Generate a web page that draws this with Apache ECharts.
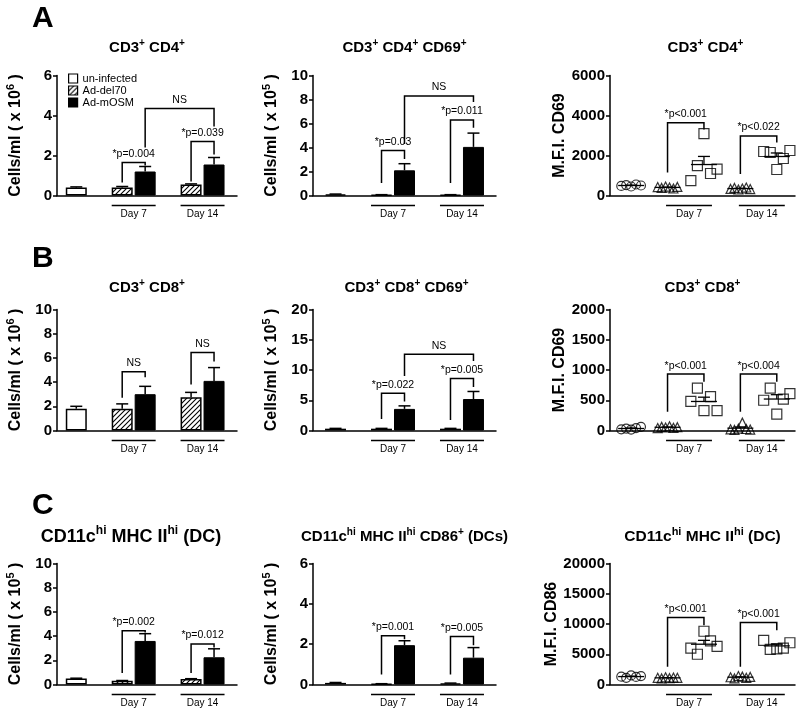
<!DOCTYPE html>
<html><head><meta charset="utf-8">
<script src="https://cdn.jsdelivr.net/npm/echarts@6/dist/echarts.min.js"></script>
<style>html,body{margin:0;padding:0;background:#fff}#c{width:800px;height:714px}</style>
</head><body><div id="c"></div>
<script>
// ================= DATA =================
const groups = ['un-infected', 'Ad-del70', 'Ad-mOSM'];
const barCategories = ['un-infected', 'Ad-del70 Day 7', 'Ad-mOSM Day 7', 'Ad-del70 Day 14', 'Ad-mOSM Day 14'];
const days = ['Day 7', 'Day 14'];

// Row A
const a1Ticks = [0, 2, 4, 6];
const a1Values = [0.4, 0.4, 1.2, 0.55, 1.55];
const a1Errors = [0.03, 0.05, 0.25, 0.03, 0.35];
const a1Stats = [
  {from: 1, to: 2, top: 1.65, left: 0.65, right: 1.5, text: '*p=0.004'},
  {from: 3, to: 4, top: 2.7, left: 0.7, right: 2.05, text: '*p=0.039'},
  {from: 2, to: 4, top: 4.35, left: 2.4, right: 3.45, text: 'NS'}
];
const a2Ticks = [0, 2, 4, 6, 8, 10];
const a2Values = [0.1, 0.05, 2.1, 0.05, 4.05];
const a2Errors = [0.02, 0.02, 0.55, 0.02, 1.15];
const a2Stats = [
  {from: 1, to: 2, top: 3.75, left: 1.05, right: 3.05, text: '*p=0.03'},
  {from: 3, to: 4, top: 6.3, left: 1.05, right: 5.65, text: '*p=0.011'},
  {from: 2, to: 4, top: 8.3, left: 4.3, right: 7.8, text: 'NS'}
];
const a3Ticks = [0, 2000, 4000, 6000];
const a3Uninfected = [480, 520, 450, 550, 500];
const a3Del70Day7 = [420, 380, 450, 400, 350, 430];
const a3MosmDay7 = [740, 1490, 3090, 1100, 1320];
const a3Del70Day14 = [330, 380, 300, 350, 400, 320];
const a3MosmDay14 = [2200, 2150, 1300, 1850, 2250];
const a3Stats = [
  {from: 1, to: 2, top: 3636, left: 1156, right: 3300, text: '*p<0.001'},
  {from: 3, to: 4, top: 2976, left: 1076, right: 2644, text: '*p<0.022'}
];

// Row B
const b1Ticks = [0, 2, 4, 6, 8, 10];
const b1Values = [1.8, 1.8, 3.0, 2.75, 4.1];
const b1Errors = [0.2, 0.4, 0.65, 0.4, 1.1];
const b1Stats = [
  {from: 1, to: 2, top: 4.85, left: 2.7, right: 4.4, text: 'NS'},
  {from: 3, to: 4, top: 6.45, left: 3.8, right: 5.7, text: 'NS'}
];
const b2Ticks = [0, 5, 10, 15, 20];
const b2Values = [0.3, 0.3, 3.57, 0.3, 5.2];
const b2Errors = [0.05, 0.05, 0.5, 0.05, 1.25];
const b2Stats = [
  {from: 1, to: 2, top: 6.15, left: 1.9, right: 4.8, text: '*p=0.022'},
  {from: 3, to: 4, top: 8.6, left: 1.75, right: 7.2, text: '*p=0.005'},
  {from: 2, to: 4, top: 12.6, left: 9.0, right: 11.5, text: 'NS'}
];
const b3Ticks = [0, 500, 1000, 1500, 2000];
const b3Uninfected = [20, 30, 15, 40, 60];
const b3Del70Day7 = [40, 60, 50, 70, 45, 55];
const b3MosmDay7 = [480, 700, 330, 560, 330];
const b3Del70Day14 = [20, 10, 30, 130, 25, 15];
const b3MosmDay14 = [500, 700, 270, 520, 610];
const b3Stats = [
  {from: 1, to: 2, top: 932, left: 310, right: 805, text: '*p<0.001'},
  {from: 3, to: 4, top: 932, left: 310, right: 805, text: '*p<0.004'}
];

// Row C
const c1Ticks = [0, 2, 4, 6, 8, 10];
const c1Values = [0.5, 0.3, 3.6, 0.45, 2.25];
const c1Errors = [0.02, 0.03, 0.6, 0.03, 0.7];
const c1Stats = [
  {from: 1, to: 2, top: 4.45, left: 0.95, right: 4.3, text: '*p=0.002'},
  {from: 3, to: 4, top: 3.35, left: 0.95, right: 3.05, text: '*p=0.012'}
];
const c2Ticks = [0, 2, 4, 6];
const c2Values = [0.08, 0.03, 1.95, 0.05, 1.33];
const c2Errors = [0.02, 0.01, 0.22, 0.02, 0.5];
const c2Stats = [
  {from: 1, to: 2, top: 2.42, left: 0.5, right: 2.25, text: '*p=0.001'},
  {from: 3, to: 4, top: 2.38, left: 0.5, right: 1.95, text: '*p=0.005'}
];
const c3Ticks = [0, 5000, 10000, 15000, 20000];
const c3Uninfected = [1300, 1100, 1500, 1250, 1400];
const c3Del70Day7 = [1100, 1000, 1200, 1050, 1150, 1100];
const c3MosmDay7 = [6000, 5000, 8800, 7200, 6300];
const c3Del70Day14 = [1200, 1000, 1400, 1300, 1100, 1250];
const c3MosmDay14 = [7300, 5800, 5900, 6000, 6900];
const c3Stats = [
  {from: 1, to: 2, top: 11075, left: 2925, right: 9800, text: '*p<0.001'},
  {from: 3, to: 4, top: 10250, left: 2925, right: 8980, text: '*p<0.001'}
];

// ================= LAYOUT / STYLE =================
const FONT = '"Liberation Sans", Arial, Helvetica, sans-serif';
const BAR_SLOTS = [0, 2, 3, 5, 6];
const DOT_SLOTS = [0, 1, 2, 3, 4];
const DOT_SYMBOLS = ['circle', 'triangle', 'rect', 'triangle', 'rect'];
const DOT_SIZES = [9, 9, 10, 9, 10];
const COLS = [
  {left: 57, width: 180, min: -0.84, max: 7, nameGap: 30},
  {left: 313, width: 183, min: -0.98, max: 6.98, nameGap: 30},
  {left: 610, width: 185, min: -0.58, max: 4.5, nameGap: 34}
];
const ROWS = [
  {top: 75.5, height: 120, titleY: 48, letterY: 18},
  {top: 309.5, height: 121, titleY: 288, letterY: 258},
  {top: 563.5, height: 121, titleY: 537, letterY: 505}
];

function jitterFor(n, spread) {
  // fixed, evenly spaced horizontal spread used to lay points side by side
  const out = [];
  for (let i = 0; i < n; i++) out.push(n === 1 ? 0 : -spread + 2 * spread * i / (n - 1));
  return out;
}

function makeHatch() {
  const s = 5;
  const c = document.createElement('canvas');
  c.width = s; c.height = s;
  const g = c.getContext('2d');
  g.fillStyle = '#fff'; g.fillRect(0, 0, s, s);
  g.strokeStyle = '#000'; g.lineWidth = 1.1;
  g.beginPath();
  g.moveTo(-1, s + 1); g.lineTo(s + 1, -1);
  g.moveTo(-1, 1); g.lineTo(1, -1);
  g.moveTo(s - 1, s + 1); g.lineTo(s + 1, s - 1);
  g.stroke();
  return c;
}
const HATCH = {image: makeHatch(), repeat: 'repeat'};

function richOf(size, supSize) {
  return {
    t: {fontSize: size, fontWeight: 'bold', fontFamily: FONT, color: '#000', lineHeight: Math.round(size * 1.35)},
    s: {fontSize: supSize, fontWeight: 'bold', fontFamily: FONT, color: '#000', lineHeight: supSize - 1, verticalAlign: 'top'}
  };
}
const richAxis = richOf(16, 11);

const panels = [
  {row: 0, col: 0, kind: 'bar', ticks: a1Ticks, values: a1Values, errors: a1Errors, stats: a1Stats, tSize: 15, tShift: 0,
   title: '{t|CD3}{s|+}{t| CD4}{s|+}', yName: '{t|Cells/ml ( x 10}{s|6}{t| )}'},
  {row: 0, col: 1, kind: 'bar', ticks: a2Ticks, values: a2Values, errors: a2Errors, stats: a2Stats, tSize: 15, tShift: 0,
   title: '{t|CD3}{s|+}{t| CD4}{s|+}{t| CD69}{s|+}', yName: '{t|Cells/ml ( x 10}{s|5}{t| )}'},
  {row: 0, col: 2, kind: 'dot', ticks: a3Ticks, points: [a3Uninfected, a3Del70Day7, a3MosmDay7, a3Del70Day14, a3MosmDay14], stats: a3Stats, tSize: 15, tShift: 3,
   title: '{t|CD3}{s|+}{t| CD4}{s|+}', yName: '{t|M.F.I. CD69}'},
  {row: 1, col: 0, kind: 'bar', ticks: b1Ticks, values: b1Values, errors: b1Errors, stats: b1Stats, tSize: 15, tShift: 0,
   title: '{t|CD3}{s|+}{t| CD8}{s|+}', yName: '{t|Cells/ml ( x 10}{s|6}{t| )}'},
  {row: 1, col: 1, kind: 'bar', ticks: b2Ticks, values: b2Values, errors: b2Errors, stats: b2Stats, tSize: 15, tShift: 2,
   title: '{t|CD3}{s|+}{t| CD8}{s|+}{t| CD69}{s|+}', yName: '{t|Cells/ml ( x 10}{s|5}{t| )}'},
  {row: 1, col: 2, kind: 'dot', ticks: b3Ticks, points: [b3Uninfected, b3Del70Day7, b3MosmDay7, b3Del70Day14, b3MosmDay14], stats: b3Stats, tSize: 15, tShift: 0,
   title: '{t|CD3}{s|+}{t| CD8}{s|+}', yName: '{t|M.F.I. CD69}'},
  {row: 2, col: 0, kind: 'bar', ticks: c1Ticks, values: c1Values, errors: c1Errors, stats: c1Stats, tSize: 18, tShift: -16,
   title: '{t|CD11c}{s|hi}{t| MHC II}{s|hi}{t| (DC)}', yName: '{t|Cells/ml ( x 10}{s|5}{t| )}'},
  {row: 2, col: 1, kind: 'bar', ticks: c2Ticks, values: c2Values, errors: c2Errors, stats: c2Stats, tSize: 15, tShift: 0,
   title: '{t|CD11c}{s|hi}{t| MHC II}{s|hi}{t| CD86}{s|+}{t| (DCs)}', yName: '{t|Cells/ml ( x 10}{s|5}{t| )}'},
  {row: 2, col: 2, kind: 'dot', ticks: c3Ticks, points: [c3Uninfected, c3Del70Day7, c3MosmDay7, c3Del70Day14, c3MosmDay14], stats: c3Stats, tSize: 15.5, tShift: 0,
   title: '{t|CD11c}{s|hi}{t| MHC II}{s|hi}{t| (DC)}', yName: '{t|M.F.I. CD86}'}
];

// ================= RENDERERS =================
const LW = 1.5;
function lineEl(x1, y1, x2, y2, w) {
  return {type: 'line', shape: {x1, y1, x2, y2}, style: {stroke: '#000', lineWidth: w || LW}};
}
function errorRender(params, api) {
  const x = api.value(0), v = api.value(1), e = api.value(2);
  const p0 = api.coord([x, v]), p1 = api.coord([x, v + e]);
  return {type: 'group', children: [
    lineEl(p0[0], p0[1], p1[0], p1[1]),
    lineEl(p1[0] - 6, p1[1], p1[0] + 6, p1[1])
  ]};
}
function meanRender(params, api) {
  const x = api.value(0), m = api.value(1), e = api.value(2);
  const p0 = api.coord([x, m]), p1 = api.coord([x, m + e]);
  return {type: 'group', children: [
    lineEl(p0[0] - 13, p0[1], p0[0] + 13, p0[1], 1.3),
    lineEl(p0[0], p0[1], p1[0], p1[1], 1.3),
    lineEl(p1[0] - 6, p1[1], p1[0] + 6, p1[1], 1.3)
  ]};
}
function bracketRenderer(stats, slots) {
  return function (params, api) {
    const b = stats[params.dataIndex];
    const xl = slots[b.from], xr = slots[b.to];
    const tl = api.coord([xl, b.top]), tr = api.coord([xr, b.top]);
    const bl = api.coord([xl, b.left]), br = api.coord([xr, b.right]);
    return {type: 'group', children: [
      {type: 'polyline', shape: {points: [bl, tl, tr, br]}, style: {stroke: '#000', lineWidth: LW, fill: null}},
      {type: 'text', x: (tl[0] + tr[0]) / 2, y: tl[1] - 3,
       style: {text: b.text, align: 'center', verticalAlign: 'bottom', font: '10.5px ' + FONT, fill: '#000'}}
    ]};
  };
}
function dayRenderer(slots, padL, padR) {
  return function (params, api) {
    const i = params.dataIndex;
    const a = api.coord([slots[1 + 2 * i], 0]), b = api.coord([slots[2 + 2 * i], 0]);
    const x1 = a[0] - padL, x2 = b[0] + padR, y = a[1] + 10;
    return {type: 'group', children: [
      lineEl(x1, y, x2, y, 1.3),
      {type: 'text', x: (x1 + x2) / 2, y: y + 4,
       style: {text: days[i], align: 'center', verticalAlign: 'top', font: '10px ' + FONT, fill: '#000'}}
    ]};
  };
}

// ================= BUILD =================
const grids = [], xAxes = [], yAxes = [], series = [], graphics = [];
const letters = ['A', 'B', 'C'];
ROWS.forEach((r, i) => graphics.push({type: 'text', left: 32, top: r.letterY - 14,
  style: {text: letters[i], font: 'bold 30px ' + FONT, fill: '#000'}}));

panels.forEach((p, gi) => {
  const C = COLS[p.col], R = ROWS[p.row];
  grids.push({left: C.left, top: R.top, width: C.width, height: R.height, outerBoundsMode: 'none', containLabel: false});
  xAxes.push({gridIndex: gi, type: 'value', min: C.min, max: C.max,
    axisLine: {show: true, onZero: false, lineStyle: {color: '#000', width: LW}},
    axisTick: {show: false}, axisLabel: {show: false}, splitLine: {show: false}});
  const t = p.ticks;
  yAxes.push({gridIndex: gi, type: 'value', min: t[0], max: t[t.length - 1], interval: t[1] - t[0],
    axisLine: {show: true, onZero: false, lineStyle: {color: '#000', width: LW}},
    axisTick: {show: true, length: 4, lineStyle: {color: '#000', width: LW}},
    axisLabel: {color: '#000', fontWeight: 'bold', fontSize: 15, fontFamily: FONT, margin: 5,
      formatter: v => String(v)},
    splitLine: {show: false},
    name: p.yName, nameLocation: 'middle', nameRotate: 90, nameGap: C.nameGap,
    nameTextStyle: {rich: richAxis}});
  graphics.push({type: 'text', x: C.left + C.width / 2 + p.tShift, y: R.titleY,
    style: {text: p.title, rich: richOf(p.tSize, Math.round(p.tSize * 0.68)), align: 'center', verticalAlign: 'middle'}});

  if (p.kind === 'bar') {
    const sl = BAR_SLOTS;
    const common = {xAxisIndex: gi, yAxisIndex: gi, type: 'bar', barWidth: 21, barGap: '-100%'};
    series.push(Object.assign({}, common, {name: groups[0], data: [[sl[0], p.values[0]]],
      itemStyle: {color: '#fff', borderColor: '#000', borderWidth: LW}}));
    series.push(Object.assign({}, common, {name: groups[1], data: [[sl[1], p.values[1]], [sl[3], p.values[3]]],
      itemStyle: {color: HATCH, borderColor: '#000', borderWidth: LW}}));
    series.push(Object.assign({}, common, {name: groups[2], data: [[sl[2], p.values[2]], [sl[4], p.values[4]]],
      itemStyle: {color: '#000', borderColor: '#000', borderWidth: 1}}));
    series.push({type: 'custom', xAxisIndex: gi, yAxisIndex: gi, clip: false, z: 3,
      data: p.values.map((v, i) => [sl[i], v, p.errors[i]]), renderItem: errorRender});
    series.push({type: 'custom', xAxisIndex: gi, yAxisIndex: gi, clip: false, z: 4,
      data: p.stats.map(b => [sl[b.from], b.top]), renderItem: bracketRenderer(p.stats, sl)});
    series.push({type: 'custom', xAxisIndex: gi, yAxisIndex: gi, clip: false, z: 4,
      data: days.map((d, i) => [sl[1 + 2 * i], 0]), renderItem: dayRenderer(sl, 10.5, 10.5)});
  } else {
    const sl = DOT_SLOTS;
    p.points.forEach((vals, g) => {
      const spread = DOT_SYMBOLS[g] === 'rect' ? 0.36 : 0.27;
      const jit = jitterFor(vals.length, spread);
      series.push({type: 'scatter', name: 'dots-' + gi + '-' + g, xAxisIndex: gi, yAxisIndex: gi,
        symbol: DOT_SYMBOLS[g], symbolSize: DOT_SIZES[g], z: 3,
        itemStyle: {color: 'rgba(0,0,0,0)', borderColor: '#000', borderWidth: 1.2},
        data: vals.map((v, i) => [sl[g] + jit[i], v])});
    });
    const stats = p.points.map((vals, g) => {
      const n = vals.length;
      const mean = vals.reduce((a, b) => a + b, 0) / n;
      const sd = Math.sqrt(vals.reduce((a, b) => a + (b - mean) * (b - mean), 0) / (n - 1));
      return [sl[g], mean, sd / Math.sqrt(n)];
    });
    series.push({type: 'custom', xAxisIndex: gi, yAxisIndex: gi, clip: false, z: 4,
      data: stats, renderItem: meanRender});
    series.push({type: 'custom', xAxisIndex: gi, yAxisIndex: gi, clip: false, z: 4,
      data: p.stats.map(b => [sl[b.from], b.top]), renderItem: bracketRenderer(p.stats, sl)});
    series.push({type: 'custom', xAxisIndex: gi, yAxisIndex: gi, clip: false, z: 4,
      data: days.map((d, i) => [sl[1 + 2 * i], 0]), renderItem: dayRenderer(sl, 1.5, 8)});
  }
});

const chart = echarts.init(document.getElementById('c'), null, {renderer: 'canvas', width: 800, height: 714});
chart.setOption({
  animation: false,
  backgroundColor: '#fff',
  textStyle: {fontFamily: FONT},
  grid: grids, xAxis: xAxes, yAxis: yAxes, series: series,
  legend: {data: groups.map(n => ({name: n, icon: 'rect'})), left: 63, top: 68, orient: 'vertical',
    itemWidth: 9, itemHeight: 9, itemGap: 1, selectedMode: false,
    itemStyle: {borderWidth: 1.2, borderColor: '#000'},
    textStyle: {fontSize: 11, fontFamily: FONT, color: '#000'}},
  graphic: graphics
});
</script></body></html>
